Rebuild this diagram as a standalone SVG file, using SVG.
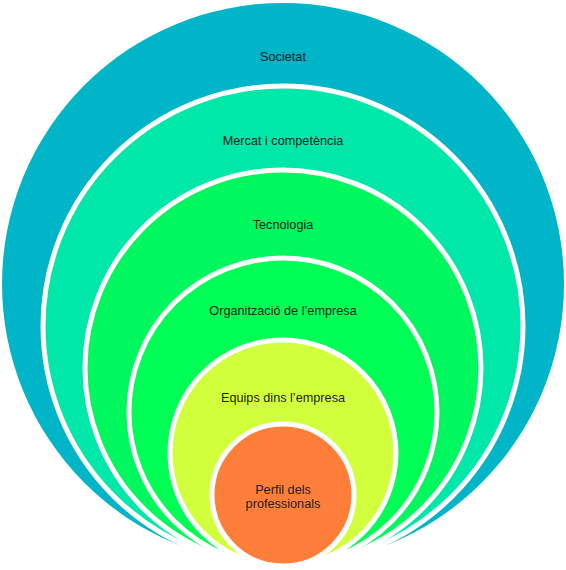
<svg xmlns="http://www.w3.org/2000/svg" width="566" height="570" viewBox="0 0 566 570">
<style>
.c{stroke:#FFFFFF;stroke-width:5}
.t{font-family:"Liberation Sans",Arial,sans-serif;font-size:12.7px;fill:#1E1E1E;text-anchor:middle}
</style>
<rect width="566" height="570" fill="#FFFFFF"/>
<g id="societat"><circle cx="283" cy="284" r="281" fill="#01B5C9"/><text class="t" x="283" y="61">Societat</text></g>
<g id="mercat"><circle class="c" cx="283" cy="326" r="240" fill="#00E8A9"/><text class="t" x="283" y="145">Mercat i competència</text></g>
<g id="tecnologia"><circle class="c" cx="283" cy="368" r="198" fill="#00F85E"/><text class="t" x="283" y="229">Tecnologia</text></g>
<g id="organitzacio"><circle class="c" cx="283" cy="412" r="154" fill="#00FF55"/><text class="t" x="283" y="315">Organització de l’empresa</text></g>
<g id="equips"><circle class="c" cx="283" cy="453" r="113" fill="#D2FF3C"/><text class="t" x="283" y="402">Equips dins l’empresa</text></g>
<g id="perfil"><circle class="c" cx="283" cy="495" r="71" fill="#FF7F3A"/><text class="t" x="283" y="494">Perfil dels</text><text class="t" x="283" y="508">professionals</text></g>
<g id="connectors"/>
</svg>
